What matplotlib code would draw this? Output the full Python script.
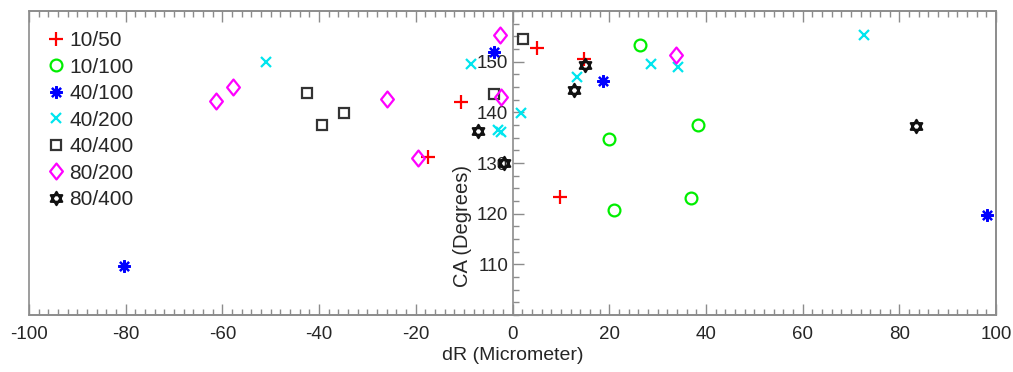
import matplotlib.pyplot as plt
import numpy as np
from matplotlib.path import Path
from matplotlib.patches import Rectangle
from matplotlib.ticker import MultipleLocator

plt.rcParams["font.family"] = ["Liberation Sans", "DejaVu Sans"]
plt.rcParams["axes.unicode_minus"] = False

# data: dR (micrometer), CA (degrees)
labels = ["10/50", "10/100", "40/100", "40/200", "40/400", "80/200", "80/400"]

dr_10_50 = [5.0, 14.8, -10.6, -17.4, 9.9]
ca_10_50 = [152.6, 150.5, 142.1, 131.2, 123.3]

dr_10_100 = [26.4, 38.4, 20.0, 36.9, 20.9]
ca_10_100 = [153.3, 137.5, 134.8, 123.0, 120.8]

dr_40_100 = [-80.3, -3.8, 18.8, 98.1]
ca_40_100 = [109.6, 151.9, 146.2, 119.8]

dr_40_200 = [-51.0, -8.6, -3.0, -2.4, 1.7, 13.3, 28.6, 34.2, 72.8]
ca_40_200 = [149.9, 149.5, 136.5, 136.2, 139.8, 147.0, 149.5, 148.9, 155.3]

dr_40_400 = [-42.6, -39.4, -34.9, -3.8, 2.2]
ca_40_400 = [143.9, 137.5, 139.9, 143.6, 154.4]

dr_80_200 = [-61.4, -57.8, -25.9, -19.5, -2.6, -2.4, 33.9]
ca_80_200 = [142.2, 145.0, 142.6, 131.0, 155.3, 143.1, 151.3]

dr_80_400 = [-7.1, -1.8, 12.8, 15.0, 83.5]
ca_80_400 = [136.3, 130.0, 144.5, 149.3, 137.3]

# six-pointed star (two triangles), like MATLAB's hexagram
ang_up = np.deg2rad([90, 210, 330])
ang_dn = np.deg2rad([270, 30, 150])
verts = []
codes = []
for a in (ang_up, ang_dn):
    pts = list(zip(np.cos(a), np.sin(a)))
    verts += pts + [pts[0]]
    codes += [Path.MOVETO, Path.LINETO, Path.LINETO, Path.CLOSEPOLY]
hexagram = Path(verts, codes)

# MATLAB-like diamond, a bit narrower than tall
diamond = Path([(0, 1), (0.8, 0), (0, -1), (-0.8, 0), (0, 1)],
               [Path.MOVETO, Path.LINETO, Path.LINETO, Path.LINETO, Path.CLOSEPOLY])

series = [
    (dr_10_50, ca_10_50, "+", "#ff0000", 10),
    (dr_10_100, ca_10_100, "o", "#00ee00", 8.5),
    (dr_40_100, ca_40_100, (8, 2, 0), "#0000ff", 9),
    (dr_40_200, ca_40_200, "x", "#00e5ee", 7.5),
    (dr_40_400, ca_40_400, "s", "#333333", 6.5),
    (dr_80_200, ca_80_200, diamond, "#ff00ff", 11.5),
    (dr_80_400, ca_80_400, hexagram, "#111111", 9.5),
]

fig = plt.figure(figsize=(10.13, 3.72), dpi=100)
ax = fig.add_axes([29 / 1013, 1 - 315 / 372, (996 - 29) / 1013, (315 - 11) / 372])

for (x, y, m, c, ms), lab in zip(series, labels):
    ax.plot(x, y, linestyle="none", marker=m, markersize=ms, markerfacecolor="none",
            markeredgecolor=c, markeredgewidth=1.6, label=lab)

ax.set_xlim(-100, 100)
ax.set_ylim(100, 160)

frame_col = "#8c8c8c"
text_col = "#262626"

# y axis crosses at x = 0, the box drawn separately
ax.spines["left"].set_position(("data", 0))
for s in ["top", "bottom", "right", "left"]:
    ax.spines[s].set_color(frame_col)
    ax.spines[s].set_linewidth(1.2)
ax.add_patch(Rectangle((0, 0), 1, 1, transform=ax.transAxes, fill=False,
                       edgecolor=frame_col, linewidth=1.2, clip_on=False))

ax.set_xticks(np.arange(-100, 101, 20))
ax.xaxis.set_minor_locator(MultipleLocator(2))
ax.set_yticks([110, 120, 130, 140, 150])
ax.yaxis.set_minor_locator(MultipleLocator(2.5))

ax.tick_params(axis="x", which="both", direction="in", top=True, bottom=True,
               color=frame_col, labelcolor=text_col, labelsize=13.5, pad=8)
ax.tick_params(axis="y", which="both", direction="in", left=True, right=False,
               color=frame_col, labelcolor=text_col, labelsize=13.5, pad=3)
ax.tick_params(which="major", length=8, width=1.0)
ax.tick_params(which="minor", length=4, width=1.0)

ax.set_xlabel("dR (Micrometer)", fontsize=14, color=text_col, labelpad=3)
fig.text(462 / 1013, 1 - 226 / 372, "CA (Degrees)", rotation=90, fontsize=14.5,
         color=text_col, ha="center", va="center")

leg = ax.legend(loc="upper left", bbox_to_anchor=(0.005, 0.975), frameon=False,
                fontsize=15, labelspacing=0.36, handlelength=0.9,
                handletextpad=0.2, borderaxespad=0.2)
for t in leg.get_texts():
    t.set_color(text_col)

fig.savefig("out.png", dpi=100)
plt.close(fig)
